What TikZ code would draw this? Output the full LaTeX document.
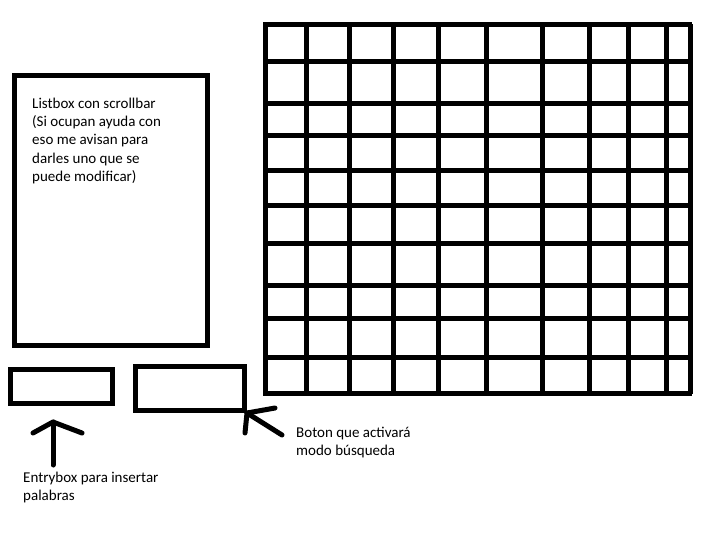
\documentclass[tikz,border=0pt]{standalone}
\usepackage{fontspec}
\setmainfont{Carlito}
\begin{document}
\begin{tikzpicture}[x=1pt,y=-1pt,
  box/.style={draw=black,line width=5pt,inner sep=0pt,fill=none},
  gridline/.style={draw=black,line width=5pt},
  pointer/.style={draw=black,line width=5pt,line cap=round,line join=round},
  label/.style={anchor=base west,align=left,inner sep=0pt,font=\fontsize{15}{18.3}\selectfont,text=black}]
\useasboundingbox (0,0) rectangle (710,555);
% listbox
\node[box,minimum width=193pt,minimum height=270pt,anchor=north west] (listbox) at (12,73) {};
\node[label] (listtext) at (32,181.5) {Listbox con scrollbar\\(Si ocupan ayuda con\\eso me avisan para\\darles uno que se\\puede modificar)};
% entry box and button
\node[box,minimum width=102pt,minimum height=34pt,anchor=north west] (entry) at (8,367) {};
\node[box,minimum width=109pt,minimum height=44pt,anchor=north west] (button) at (133,364) {};
% grid
\foreach \x in {265,306,349,393,438,486,542,589,628,666,690}
  \draw[gridline] (\x,24) -- (\x,394);
\foreach \y in {24,61,103,135,170,205,243,285,318,357,393}
  \draw[gridline] (263,\y) -- (692,\y);
% arrows
\coordinate (a1tip) at (53,422);
\coordinate (a1tail) at (53,465);
\draw[pointer] (a1tail) -- (a1tip);
\draw[pointer] (33,433) -- (a1tip) -- (82,433);
\coordinate (a2tip) at (247,413);
\coordinate (a2tail) at (282,435);
\draw[pointer] (a2tail) -- (a2tip);
\draw[pointer] (245,433) -- (a2tip) -- (275,408);
% labels
\node[label] (entrytext) at (23,500.5) {Entrybox para insertar\\palabras};
\node[label] (buttontext) at (296,455.5) {Boton que activará\\modo búsqueda};
\end{tikzpicture}
\end{document}
